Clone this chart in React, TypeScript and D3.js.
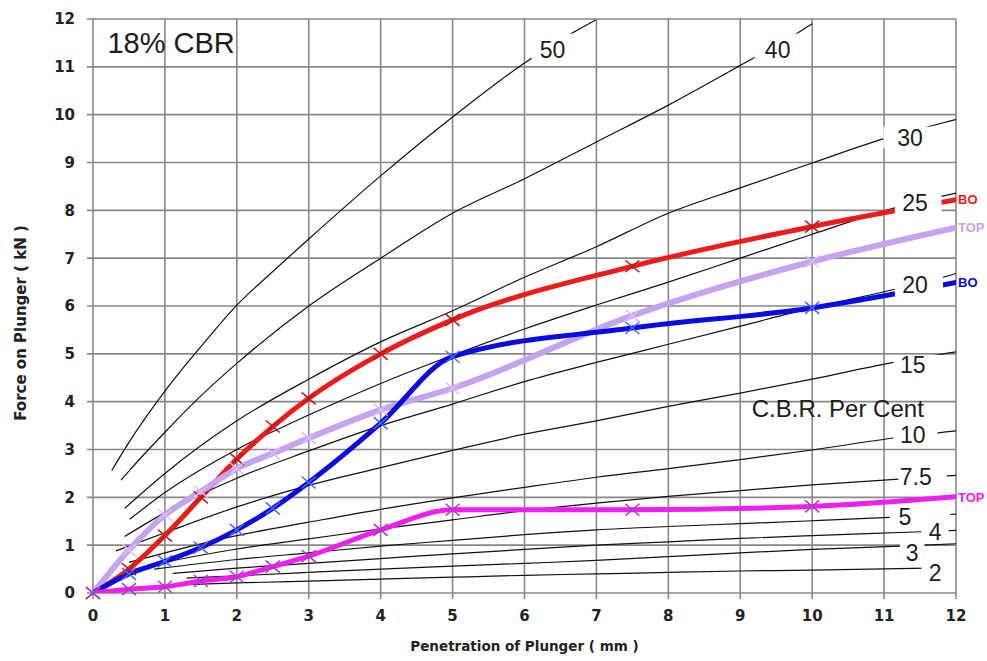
import * as d3 from "d3";
import { useEffect, useRef } from "react";

type Pt = [number, number];

// test readings (penetration in mm, force in kN)
const penetration = [0, 0.5, 1, 1.5, 2, 2.5, 3, 4, 5, 7.5, 10, 12];
const bottomRed = [0, 0.5, 1.2, 2.0, 2.8, 3.48, 4.07, 5.0, 5.71, 6.83, 7.66, 8.22];
const topLavender = [0, 0.9, 1.63, 2.12, 2.6, 2.92, 3.24, 3.83, 4.28, 5.8, 6.93, 7.64];
const bottomBlue = [0, 0.4, 0.66, 0.95, 1.32, 1.77, 2.31, 3.55, 4.94, 5.54, 5.96, 6.49];
const topMagenta = [0, 0.08, 0.13, 0.25, 0.34, 0.55, 0.77, 1.32, 1.74, 1.74, 1.81, 2.01];

// standard C.B.R. curves
const cbr50: Pt[] = [[0.26, 2.56], [0.5, 3.15], [1, 4.22], [1.5, 5.15], [2, 6.02], [2.5, 6.72], [3, 7.4], [4, 8.72], [5, 9.95], [6, 11.08], [6.68, 11.72], [6.99, 11.98]];
const cbr40: Pt[] = [[0.39, 2.36], [0.5, 2.55], [1, 3.36], [1.5, 4.12], [2, 4.8], [3, 6.0], [4, 7.0], [5, 7.94], [6, 8.66], [7, 9.43], [8, 10.2], [9, 11.03], [9.81, 11.72], [10, 11.9]];
const cbr30: Pt[] = [[0.44, 1.77], [1, 2.5], [2, 3.6], [3, 4.47], [4, 5.25], [5, 5.9], [6, 6.6], [7, 7.24], [8, 7.94], [9, 8.47], [10, 8.99], [11, 9.5], [11.72, 9.79], [12, 9.9]];
const cbr25: Pt[] = [[0.51, 1.54], [1, 2.1], [2, 3.0], [3, 3.72], [4, 4.38], [5, 4.97], [6, 5.52], [7, 6.02], [8, 6.5], [9, 7.0], [10, 7.5], [11.15, 8.05], [12, 8.36]];
const cbr20: Pt[] = [[0.44, 1.18], [1, 1.68], [2, 2.4], [3, 2.97], [4, 3.5], [5, 3.95], [6, 4.42], [7, 4.82], [8, 5.2], [9, 5.58], [10, 5.96], [11.15, 6.35], [11.82, 6.6], [12, 6.68]];
const cbr15: Pt[] = [[0.32, 0.88], [1, 1.26], [2, 1.8], [3, 2.25], [4, 2.62], [5, 2.98], [6, 3.32], [7, 3.6], [8, 3.9], [9, 4.18], [10, 4.47], [11.13, 4.82], [12, 5.04]];
const cbr10: Pt[] = [[0.5, 0.64], [1, 0.84], [2, 1.2], [3, 1.48], [4, 1.75], [5, 1.99], [6, 2.21], [7, 2.42], [8, 2.6], [9, 2.79], [10, 2.99], [11.13, 3.24], [12, 3.39]];
const cbr7_5: Pt[] = [[0.6, 0.5], [1, 0.64], [2, 0.92], [3, 1.13], [4, 1.34], [5, 1.53], [6, 1.72], [7, 1.88], [8, 2.02], [9, 2.14], [10, 2.26], [11.2, 2.38], [12, 2.46]];
const cbr5: Pt[] = [[0.85, 0.5], [2, 0.7], [3, 0.84], [4, 0.98], [5, 1.1], [6, 1.22], [7, 1.32], [8, 1.39], [9, 1.45], [10, 1.51], [11.08, 1.58], [12, 1.65]];
const cbr4: Pt[] = [[1.11, 0.41], [2, 0.52], [3, 0.62], [4, 0.72], [5, 0.82], [6, 0.91], [7, 1.0], [8, 1.07], [9, 1.14], [10, 1.2], [11.52, 1.28], [12, 1.31]];
const cbr3: Pt[] = [[1.3, 0.31], [2, 0.36], [3, 0.43], [4, 0.5], [5, 0.56], [6, 0.62], [7, 0.68], [8, 0.76], [9, 0.84], [10, 0.91], [11.22, 0.98], [12, 1.03]];
const cbr2: Pt[] = [[1.0, 0.16], [2, 0.21], [3, 0.25], [4, 0.29], [5, 0.33], [6, 0.37], [7, 0.4], [8, 0.43], [9, 0.46], [10, 0.48], [11.6, 0.52]];

const cbrCurves = [cbr50, cbr40, cbr30, cbr25, cbr20, cbr15, cbr10, cbr7_5, cbr5, cbr4, cbr3, cbr2];

const axisTicks = [0, 1, 2, 3, 4, 5, 6, 7, 8, 9, 10, 11, 12];

// curve labels: text position and the stretch of curve the label box hides (data units)
const cbrLabels = [
  { text: "50", x: 6.39, y: 11.36, x0: 6.1, x1: 6.68, h: 32 },
  { text: "40", x: 9.52, y: 11.36, x0: 9.2, x1: 9.81, h: 32 },
  { text: "30", x: 11.36, y: 9.52, x0: 10.99, x1: 11.72, h: 22 },
  { text: "25", x: 11.43, y: 8.16, x0: 11.15, x1: 11.8, h: 22 },
  { text: "20", x: 11.43, y: 6.44, x0: 11.15, x1: 11.82, h: 22 },
  { text: "15", x: 11.4, y: 4.77, x0: 11.13, x1: 11.8, h: 20 },
  { text: "10", x: 11.4, y: 3.31, x0: 11.13, x1: 11.74, h: 22 },
  { text: "7.5", x: 11.44, y: 2.43, x0: 11.2, x1: 11.87, h: 22 },
  { text: "5", x: 11.29, y: 1.59, x0: 11.08, x1: 11.92, h: 20 },
  { text: "4", x: 11.71, y: 1.28, x0: 11.52, x1: 11.9, h: 20 },
  { text: "3", x: 11.39, y: 0.84, x0: 11.22, x1: 11.56, h: 22 },
  { text: "2", x: 11.71, y: 0.42, x0: 11.52, x1: 12.1, h: 20 },
];

// series names as far as they show at the right edge
const series = [
  { name: "BO", values: bottomRed, color: "#ee1b1b", mark: "#b81c1c", width: 5 },
  { name: "TOP", values: topLavender, color: "#c6a3f0", mark: "#d9c0f7", width: 6 },
  { name: "BO", values: bottomBlue, color: "#0a0ae6", mark: "#4668ff", width: 5 },
  { name: "TOP", values: topMagenta, color: "#f01ef0", mark: "#a83cc0", width: 5 },
];

export default function App(): JSX.Element {
  const svgRef = useRef<SVGSVGElement>(null);

  useEffect(() => {
    if (!svgRef.current) return;
    const width = 987;
    const height = 661;
    const margin = { top: 19, right: 31, bottom: 68, left: 93 };

    const svg = d3.select(svgRef.current);
    svg.selectAll("*").remove();

    const x = d3.scaleLinear().domain([0, 12]).range([margin.left, width - margin.right]);
    const y = d3.scaleLinear().domain([0, 12]).range([height - margin.bottom, margin.top]);

    svg
      .append("defs")
      .append("clipPath")
      .attr("id", "plot-clip")
      .append("rect")
      .attr("x", x(0))
      .attr("y", y(12))
      .attr("width", x(12) - x(0))
      .attr("height", y(0) - y(12));

    svg.append("rect").attr("width", width).attr("height", height).attr("fill", "#fff");

    // grid
    const grid = svg.append("g").attr("stroke", "#878787").attr("stroke-width", 1.6);
    grid
      .selectAll("line.h")
      .data(axisTicks)
      .join("line")
      .attr("class", "h")
      .attr("x1", x(0) - 6)
      .attr("x2", x(12))
      .attr("y1", (d) => y(d))
      .attr("y2", (d) => y(d));
    grid
      .selectAll("line.v")
      .data(axisTicks)
      .join("line")
      .attr("class", "v")
      .attr("x1", (d) => x(d))
      .attr("x2", (d) => x(d))
      .attr("y1", y(12))
      .attr("y2", y(0) + 6);

    // tick labels
    svg
      .append("g")
      .selectAll("text")
      .data(axisTicks)
      .join("text")
      .attr("x", x(0) - 18)
      .attr("y", (d) => y(d))
      .attr("dy", "0.36em")
      .attr("text-anchor", "end")
      .style("font", "bold 15px 'DejaVu Sans', Verdana, sans-serif")
      .attr("fill", "#222")
      .text((d) => d);
    svg
      .append("g")
      .selectAll("text")
      .data(axisTicks)
      .join("text")
      .attr("x", (d) => x(d))
      .attr("y", y(0) + 28)
      .attr("text-anchor", "middle")
      .style("font", "bold 15px 'DejaVu Sans', Verdana, sans-serif")
      .attr("fill", "#222")
      .text((d) => d);

    // axis titles
    svg
      .append("text")
      .attr("transform", `translate(26,${(y(0) + y(12)) / 2 + 17}) rotate(-90)`)
      .attr("text-anchor", "middle")
      .style("font", "bold 15px 'DejaVu Sans', Verdana, sans-serif")
      .attr("fill", "#222")
      .text("Force on Plunger ( kN )");
    svg
      .append("text")
      .attr("x", (x(0) + x(12)) / 2)
      .attr("y", 651)
      .attr("text-anchor", "middle")
      .style("font", "bold 13.5px 'DejaVu Sans', Verdana, sans-serif")
      .attr("fill", "#222")
      .text("Penetration of Plunger ( mm )");

    const plot = svg.append("g").attr("clip-path", "url(#plot-clip)");

    // C.B.R. curves
    const cbrLine = d3
      .line<Pt>()
      .x((d) => x(d[0]))
      .y((d) => y(d[1]))
      .curve(d3.curveMonotoneX);
    plot
      .selectAll("path.cbr")
      .data(cbrCurves)
      .join("path")
      .attr("class", "cbr")
      .attr("d", (d) => cbrLine(d))
      .attr("fill", "none")
      .attr("stroke", "#111")
      .attr("stroke-width", 1.2);

    // test series
    const seriesLine = d3
      .line<number>()
      .x((_, i) => x(penetration[i]))
      .y((d) => y(d))
      .curve(d3.curveMonotoneX);
    for (const s of series) {
      plot
        .append("path")
        .attr("d", seriesLine(s.values))
        .attr("fill", "none")
        .attr("stroke", s.color)
        .attr("stroke-width", s.width)
        .attr("stroke-linecap", "round")
        .attr("stroke-linejoin", "round");
    }
    for (const s of series) {
      const pts = s.values.map((v, i) => [penetration[i], v] as Pt).filter((p) => p[0] < 12);
      const g = svg.append("g").attr("stroke", s.mark).attr("stroke-width", 1.5);
      for (const p of pts) {
        const cx = x(p[0]);
        const cy = y(p[1]);
        g.append("line").attr("x1", cx - 7).attr("y1", cy - 6).attr("x2", cx + 7).attr("y2", cy + 6);
        g.append("line").attr("x1", cx - 7).attr("y1", cy + 6).attr("x2", cx + 7).attr("y2", cy - 6);
      }
    }

    // curve labels on white boxes
    const labels = svg.append("g");
    for (const l of cbrLabels) {
      labels
        .append("rect")
        .attr("x", x(l.x0))
        .attr("y", y(l.y) - l.h / 2)
        .attr("width", Math.min(x(l.x1), x(12) - 1) - x(l.x0))
        .attr("height", l.h)
        .attr("fill", "#fff");
      labels
        .append("text")
        .attr("x", x(l.x))
        .attr("y", y(l.y))
        .attr("dy", "0.36em")
        .attr("text-anchor", "middle")
        .style("font", "23px 'Liberation Sans', Arial, sans-serif")
        .attr("fill", "#1c1c1c")
        .text(l.text);
    }

    svg
      .append("text")
      .attr("x", x(9.16))
      .attr("y", y(3.85))
      .attr("dy", "0.36em")
      .style("font", "24px 'Liberation Sans', Arial, sans-serif")
      .attr("fill", "#1c1c1c")
      .text("C.B.R. Per Cent");

    svg
      .append("text")
      .attr("x", x(0.2))
      .attr("y", y(11.5))
      .attr("dy", "0.36em")
      .style("font", "29px 'Liberation Sans', Arial, sans-serif")
      .attr("fill", "#1c1c1c")
      .text("18% CBR");

    // series names at the line ends
    const names = svg.append("g");
    for (const s of series) {
      const last = s.values.length - 1;
      names
        .append("text")
        .attr("x", x(penetration[last]) + 2)
        .attr("y", y(s.values[last]))
        .attr("dy", "0.36em")
        .style("font", "bold 13px 'Liberation Sans', Arial, sans-serif")
        .attr("fill", s.color)
        .text(s.name);
    }
  }, []);

  return (
    <div style={{ position: "absolute", left: 0, top: 0 }}>
      <svg ref={svgRef} width={987} height={661} style={{ display: "block" }} />
    </div>
  );
}
